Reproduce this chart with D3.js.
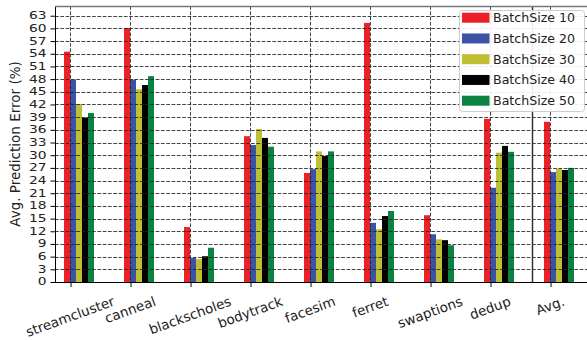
<!DOCTYPE html>
<html>
<head>
<meta charset="utf-8">
<script src="https://cdn.jsdelivr.net/npm/d3@7/dist/d3.min.js"></script>
<style>
  html, body { margin: 0; padding: 0; background: #fff; }
  svg { display: block; font-family: "DejaVu Sans", sans-serif; }
</style>
</head>
<body>
<svg id="chart" width="587" height="340"></svg>
<script>
// Benchmarks on the x axis
const categories = ["streamcluster", "canneal", "blackscholes", "bodytrack", "facesim",
                    "ferret", "swaptions", "dedup", "Avg."];
const seriesNames = ["BatchSize 10", "BatchSize 20", "BatchSize 30", "BatchSize 40", "BatchSize 50"];
const seriesColors = ["#ec2027", "#3a53a4", "#bfbf33", "#000000", "#0a8241"];

// Average prediction error (%) per batch size
const batch10 = [54.5, 60.1, 13.0, 34.5, 25.8, 61.3, 15.8, 38.6, 37.9];
const batch20 = [47.9, 47.9, 5.7, 32.4, 26.7, 14.0, 11.3, 22.3, 26.0];
const batch30 = [42.1, 45.6, 5.4, 36.2, 30.9, 12.5, 10.1, 30.6, 26.8];
const batch40 = [38.9, 46.6, 6.1, 34.1, 29.8, 15.6, 9.9, 32.2, 26.5];
const batch50 = [40.0, 48.7, 8.1, 32.0, 30.9, 16.8, 8.7, 30.8, 27.0];
const seriesValues = [batch10, batch20, batch30, batch40, batch50];

const yTicks = d3.range(0, 64, 3);
const avgSeparator = 7.7;   // solid rule before the average group
const barWidth = 0.1;       // in category units

const svg = d3.select("#chart");
const fs = 13.5;

const x = d3.scaleLinear().domain([-0.25, 8.75]).range([55, 595]);
const y = d3.scaleLinear().domain([0, 65.3]).range([282, 6]);

// Bars
const barsG = svg.append("g");
seriesValues.forEach((vals, j) => {
  barsG.selectAll(null)
    .data(vals)
    .enter().append("rect")
    .attr("x", (d, i) => x(i + (j - 1) * barWidth))
    .attr("width", (d, i) => x(i + j * barWidth) - x(i + (j - 1) * barWidth))
    .attr("y", d => y(d))
    .attr("height", d => y(0) - y(d))
    .attr("fill", seriesColors[j]);
});

// Dashed grid drawn over the bars
const gridG = svg.append("g")
  .attr("stroke", "#222")
  .attr("stroke-opacity", 0.85)
  .attr("stroke-width", 1)
  .attr("stroke-dasharray", "3.7,1.6");
gridG.selectAll(null)
  .data(yTicks.filter(t => t > 0))
  .enter().append("line")
  .attr("x1", x(-0.25)).attr("x2", x(8.75))
  .attr("y1", d => Math.round(y(d)) + 0.5)
  .attr("y2", d => Math.round(y(d)) + 0.5);
gridG.selectAll(null)
  .data(d3.range(categories.length))
  .enter().append("line")
  .attr("x1", d => Math.round(x(d)) + 0.5)
  .attr("x2", d => Math.round(x(d)) + 0.5)
  .attr("y1", y(65.3)).attr("y2", y(0));

// Separator before Avg.
svg.append("line")
  .attr("x1", Math.round(x(avgSeparator)) + 0.5)
  .attr("x2", Math.round(x(avgSeparator)) + 0.5)
  .attr("y1", y(65.3)).attr("y2", y(0))
  .attr("stroke", "#333").attr("stroke-width", 1.5);

// Axes: tick marks from d3, labels set in a wide, compact face
const yAxis = d3.axisLeft(y).tickValues(yTicks).tickSize(5).tickFormat("");
const yG = svg.append("g").attr("transform", "translate(55.5,0)").call(yAxis);
yG.select(".domain").remove();
yG.selectAll(".tick line").attr("stroke", "#000");
svg.append("g").selectAll(null)
  .data(yTicks)
  .enter().append("text")
  .attr("transform", d => `translate(46.5,${y(d)}) scale(1.3,1)`)
  .attr("text-anchor", "end")
  .attr("dominant-baseline", "central")
  .attr("font-size", 10.6)
  .attr("fill", "#222")
  .text(d => d);

const xAxis = d3.axisBottom(x).tickValues(d3.range(categories.length)).tickSize(5).tickFormat("");
const xG = svg.append("g").attr("transform", "translate(0.5,282)").call(xAxis);
xG.select(".domain").remove();
xG.selectAll(".tick line").attr("stroke", "#000");

// Rotated category labels, centred under each tick
const labG = svg.append("g");
categories.forEach((c, i) => {
  const t = labG.append("text")
    .attr("font-size", fs)
    .attr("fill", "#222")
    .attr("text-anchor", "middle")
    .attr("dominant-baseline", "central")
    .text(c);
  const w = t.node().getComputedTextLength();
  const a = 20 * Math.PI / 180;
  const h = w * Math.sin(a) + fs * 1.17 * Math.cos(a);
  t.attr("transform", `translate(${x(i)},${293 + h / 2}) rotate(-20)`);
});

// Frame
svg.append("line").attr("x1", 55.5).attr("x2", 55.5).attr("y1", 6).attr("y2", 282.5)
  .attr("stroke", "#000").attr("stroke-width", 1);
svg.append("line").attr("x1", 55).attr("x2", 595).attr("y1", 282.5).attr("y2", 282.5)
  .attr("stroke", "#000").attr("stroke-width", 1);
svg.append("line").attr("x1", 55).attr("x2", 595).attr("y1", 6.5).attr("y2", 6.5)
  .attr("stroke", "#777").attr("stroke-width", 1.5);

// Y axis title
svg.append("text")
  .attr("transform", `translate(15,${(y(0) + y(65.3)) / 2}) rotate(-90)`)
  .attr("text-anchor", "middle")
  .attr("dominant-baseline", "central")
  .attr("font-size", fs)
  .attr("fill", "#222")
  .text("Avg. Prediction Error (%)");

// Legend
const leg = svg.append("g").attr("transform", "translate(459,10)");
leg.append("rect")
  .attr("x", 0.5).attr("y", 0.5).attr("width", 125).attr("height", 101)
  .attr("rx", 3)
  .attr("fill", "#fff").attr("fill-opacity", 0.9)
  .attr("stroke", "#ccc");
seriesNames.forEach((name, j) => {
  const cy = 7.7 + j * 20.75;
  leg.append("rect")
    .attr("x", 3).attr("y", cy - 5).attr("width", 27.5).attr("height", 10)
    .attr("fill", seriesColors[j]);
  leg.append("text")
    .attr("x", 34).attr("y", cy)
    .attr("dominant-baseline", "central")
    .attr("font-size", 12.6)
    .attr("fill", "#222")
    .text(name);
});
</script>
</body>
</html>
